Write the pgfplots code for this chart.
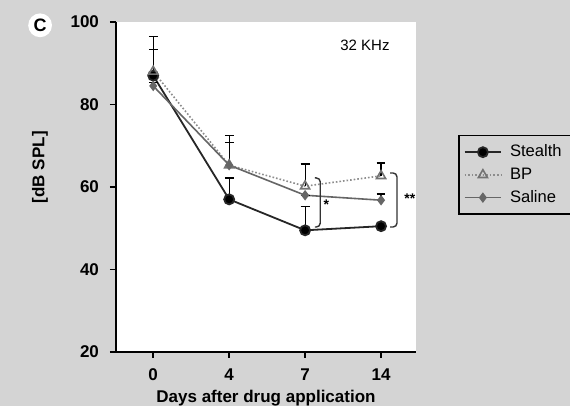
\documentclass[border=0pt]{standalone}
\usepackage{fontspec}
\setmainfont{Liberation Sans}
\usepackage{pgfplots}
\pgfplotsset{compat=1.18}
\begin{document}
\begin{tikzpicture}
\clip (-58pt,-27pt) rectangle (227pt,176pt);
\fill[black!17] (-58pt,-27pt) rectangle (227pt,176pt);
\begin{axis}[
  width=150pt, height=165pt, scale only axis,
  axis lines=left, axis line style={line width=0.9pt, -},
  axis background/.style={fill=white},
  xmin=-0.49, xmax=3.46, ymin=20, ymax=100,
  xtick={0,1,2,3}, xticklabels={0,4,7,14},
  ytick={20,40,60,80,100},
  tick align=outside, major tick length=3pt,
  tick style={line width=0.8pt, black},
  font=\fontsize{8}{9}\selectfont,
  tick label style={font=\fontsize{8.5}{9}\selectfont\bfseries},
  /pgf/number format/assume math mode=true,
  yticklabel style={xshift=-2pt},
  xticklabel style={yshift=-2pt},
  xlabel={\bfseries Days after drug application},
  xlabel style={at={(0.5,0)}, anchor=north, yshift=-15.5pt, font=\fontsize{8.5}{9}\selectfont},
  legend style={at={(rel axis cs:1.14,0.658)}, anchor=north west, draw=black,
    line width=0.8pt, fill=none, font=\fontsize{8.3}{10.5}\selectfont,
    row sep=0pt, inner sep=2.5pt,
    nodes={inner xsep=4pt}},
  legend image code/.code={\draw[mark repeat=2, mark phase=2] plot coordinates {(0cm,0cm) (0.32cm,0cm) (0.64cm,0cm)};},
  legend cell align=left,
  clip=false,
  error bars/y dir=plus, error bars/y explicit,
  error bars/error bar style={black, line width=0.6pt, solid},
  error bars/error mark options={rotate=90, mark size=2.2pt, black, line width=0.6pt},
]
\addplot[black!85, line width=0.9pt, mark=*, mark size=2.5pt, mark options={solid, fill=black}]
  coordinates {(0,87) +- (0,6.4) (1,57) +- (0,5.2) (2,49.5) +- (0,5.7) (3,50.5) +- (0,0)};
\addlegendentry{Stealth}
\addplot[black!45, line width=0.8pt, densely dotted, mark=triangle, mark size=2.6pt, mark options={solid, black!55, fill=white}]
  coordinates {(0,88) +- (0,8.4) (1,65.3) +- (0,7.1) (2,60.2) +- (0,5.4) (3,62.7) +- (0,3.1)};
\addlegendentry{BP}
\addplot[black!60, line width=0.8pt, mark=diamond*, mark size=2pt, mark options={solid, fill=black!60}]
  coordinates {(0,84.5) +- (0,0.8) (1,65.3) +- (0,5.4) (2,58) +- (0,0) (3,56.8) +- (0,1.5)};
\addlegendentry{Saline}
\draw[black!80, line width=0.7pt, rounded corners=2pt]
  (axis cs:2.13,62.2) -- (axis cs:2.2,62.2) -- (axis cs:2.2,50.3) -- (axis cs:2.13,50.3);
\node[font=\fontsize{7}{8}\selectfont\bfseries] at (axis cs:2.28,55.6) {*};
\draw[black!80, line width=0.7pt, rounded corners=2pt]
  (axis cs:3.12,63.4) -- (axis cs:3.21,63.4) -- (axis cs:3.21,50.3) -- (axis cs:3.12,50.3);
\node[font=\fontsize{7}{8}\selectfont\bfseries] at (axis cs:3.38,57.2) {**};
\node[font=\fontsize{7.5}{9}\selectfont] at (rel axis cs:0.83,0.93) {32 KHz};
\node[font=\fontsize{9}{10}\selectfont\bfseries, fill=white, circle, inner sep=1pt] at (rel axis cs:-0.253,0.99) {C};
\node[rotate=90, font=\fontsize{8.5}{9}\selectfont\bfseries] at (rel axis cs:-0.253,0.56) {[dB SPL]};
\end{axis}
\end{tikzpicture}
\end{document}
